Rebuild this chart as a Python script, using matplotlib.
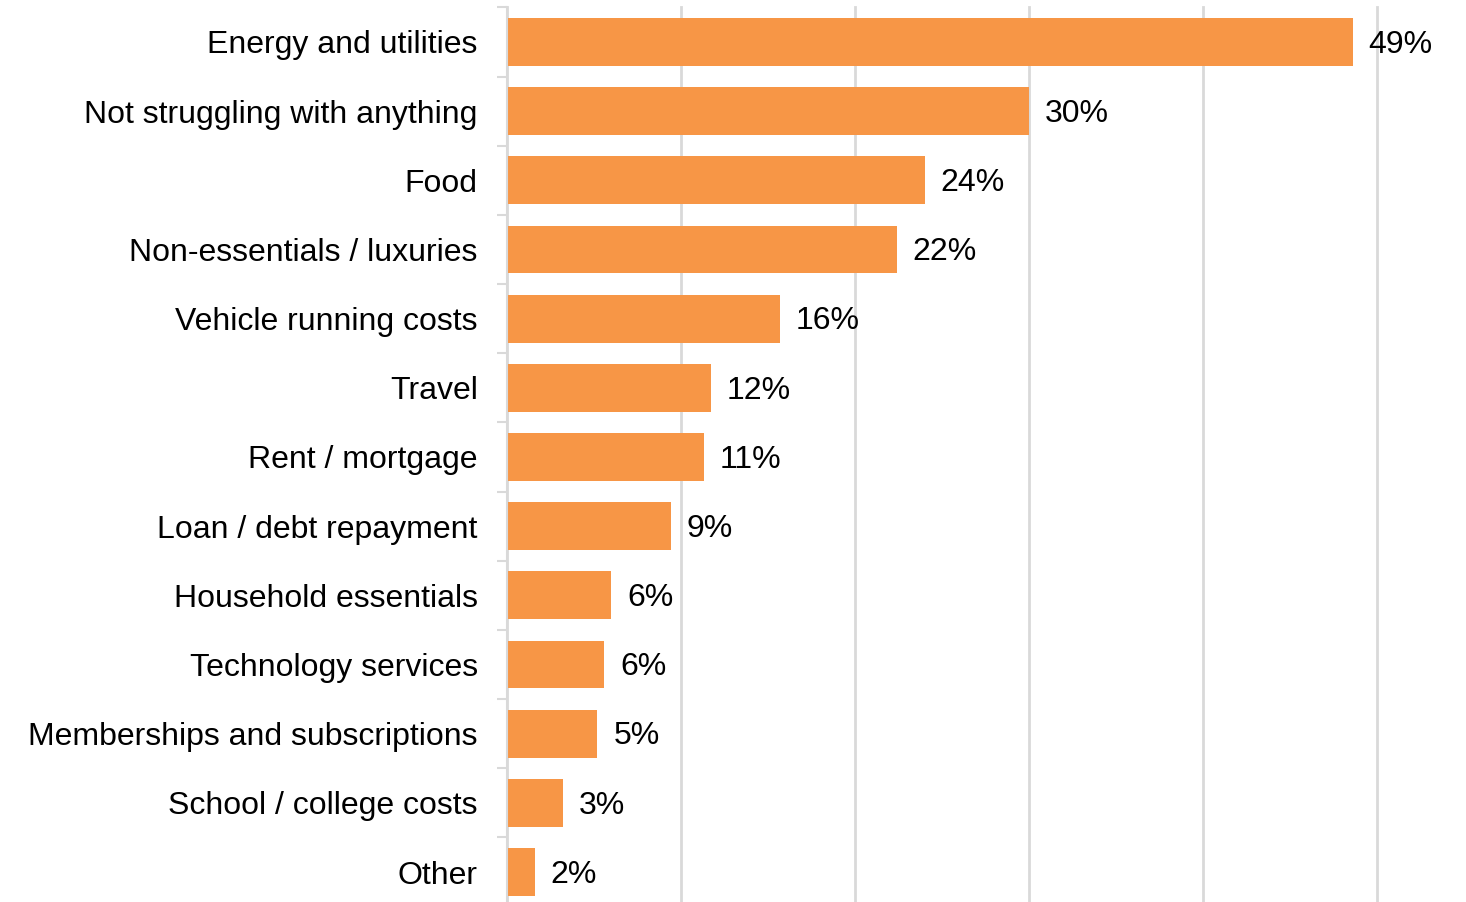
import numpy as np
import matplotlib
matplotlib.use('Agg')
import matplotlib.pyplot as plt

# Share of respondents struggling with each cost
categories = ['Energy and utilities', 'Not struggling with anything', 'Food',
              'Non-essentials / luxuries', 'Vehicle running costs', 'Travel',
              'Rent / mortgage', 'Loan / debt repayment', 'Household essentials',
              'Technology services', 'Memberships and subscriptions',
              'School / college costs', 'Other']
shares = [48.6, 30.0, 24.0, 22.4, 15.7, 11.7, 11.3, 9.4, 6.0, 5.6, 5.2, 3.2, 1.6]

bar_colour = '#F79646'
grid_colour = '#D9D9D9'

plt.rcParams['font.family'] = ['Liberation Sans', 'DejaVu Sans']

fig = plt.figure(figsize=(14.66, 9.02), dpi=100)
ax = fig.add_axes([0.3458, -0.0051, 0.5935, 0.9969])

y = np.arange(len(categories))
ax.barh(y, shares, height=0.69, color=bar_colour, zorder=2)

for yi, v in zip(y, shares):
    ax.annotate('{:.0f}%'.format(v), xy=(v, yi), xytext=(11.5, -2),
                textcoords='offset points', va='center', ha='left',
                fontsize=23, color='black', annotation_clip=False)

ax.set_xlim(0, 50)
ax.set_ylim(len(categories) - 0.5, -0.5)
ax.set_xticks(np.arange(0, 51, 10))
ax.xaxis.grid(True, color=grid_colour, linewidth=2, zorder=0)
for line in ax.get_xgridlines():
    line.set_clip_on(False)
ax.tick_params(axis='x', length=0, labelbottom=False)

ax.set_yticks(y)
ax.set_yticklabels(categories, fontsize=23)
ax.tick_params(axis='y', which='major', length=0, pad=21)
ax.set_yticks(np.arange(-0.5, len(categories), 1), minor=True)
ax.tick_params(axis='y', which='minor', length=7.2, width=1.5, color=grid_colour)

for side in ['top', 'right', 'bottom']:
    ax.spines[side].set_visible(False)
ax.spines['left'].set_color(grid_colour)
ax.spines['left'].set_linewidth(1.5)

fig.savefig('out.png', dpi=100)
